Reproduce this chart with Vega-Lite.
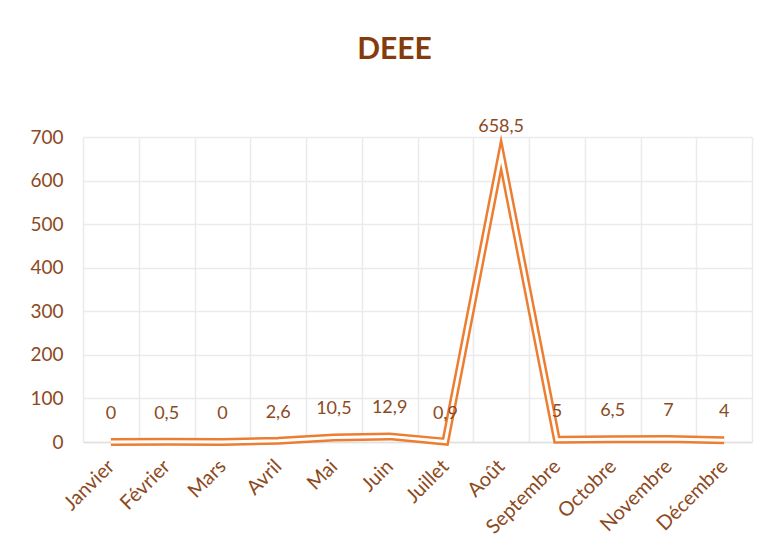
{
  "$schema": "https://vega.github.io/schema/vega-lite/v6.json",
  "autosize": "none",
  "width": 669,
  "height": 305,
  "padding": {"left": 83, "top": 137, "right": 26, "bottom": 109},
  "background": "white",
  "config": {
    "locale": {"number": {"decimal": ",", "thousands": " ", "grouping": [3], "currency": ["", " €"]}},
    "view": {"stroke": null},
    "font": "Lato"
  },
  "title": {
    "text": "DEEE",
    "fontSize": 30,
    "fontWeight": "bold",
    "color": "#843C0C",
    "font": "Lato",
    "anchor": "middle",
    "frame": "group",
    "dx": -23,
    "offset": 26,
    "baseline": "alphabetic"
  },
  "data": {
    "values": [
      {"mois": "Janvier", "valeur": 0},
      {"mois": "Février", "valeur": 0.5},
      {"mois": "Mars", "valeur": 0},
      {"mois": "Avril", "valeur": 2.6},
      {"mois": "Mai", "valeur": 10.5},
      {"mois": "Juin", "valeur": 12.9},
      {"mois": "Juillet", "valeur": 0.9},
      {"mois": "Août", "valeur": 658.5},
      {"mois": "Septembre", "valeur": 5},
      {"mois": "Octobre", "valeur": 6.5},
      {"mois": "Novembre", "valeur": 7},
      {"mois": "Décembre", "valeur": 4}
    ]
  },
  "encoding": {
    "x": {
      "field": "mois",
      "type": "nominal",
      "sort": null,
      "scale": {"type": "band", "paddingInner": 0, "paddingOuter": 0},
      "axis": {
        "title": null,
        "tickBand": "extent",
        "grid": true,
        "gridColor": "#EBEBEB",
        "gridWidth": 1.5,
        "domain": true,
        "domainColor": "#E0E0E0",
        "domainWidth": 1.5,
        "ticks": false,
        "labelAngle": -45,
        "labelAlign": "right",
        "labelBaseline": "middle",
        "labelPadding": 21,
        "labelFontSize": 20,
        "labelColor": "#8C4A1E",
        "labelFont": "Lato"
      }
    },
    "y": {
      "field": "valeur",
      "type": "quantitative",
      "scale": {"domain": [0, 700], "nice": false},
      "axis": {
        "title": null,
        "values": [0, 100, 200, 300, 400, 500, 600, 700],
        "grid": true,
        "gridColor": "#EBEBEB",
        "gridWidth": 1.5,
        "domain": false,
        "ticks": false,
        "labelPadding": 20,
        "labelFontSize": 19,
        "labelColor": "#8C4A1E",
        "labelFont": "Lato"
      }
    }
  },
  "layer": [
    {
      "mark": {"type": "line", "color": "#ED7D31", "strokeWidth": 8, "strokeJoin": "miter", "strokeMiterLimit": 10}
    },
    {
      "mark": {"type": "line", "color": "#FFFFFF", "strokeWidth": 3, "strokeJoin": "miter", "strokeMiterLimit": 10}
    },
    {
      "mark": {"type": "text", "dy": -28, "fontSize": 18, "color": "#8C4A1E", "font": "Lato"},
      "encoding": {"text": {"field": "valeur", "type": "quantitative", "format": "~g"}}
    }
  ]
}
